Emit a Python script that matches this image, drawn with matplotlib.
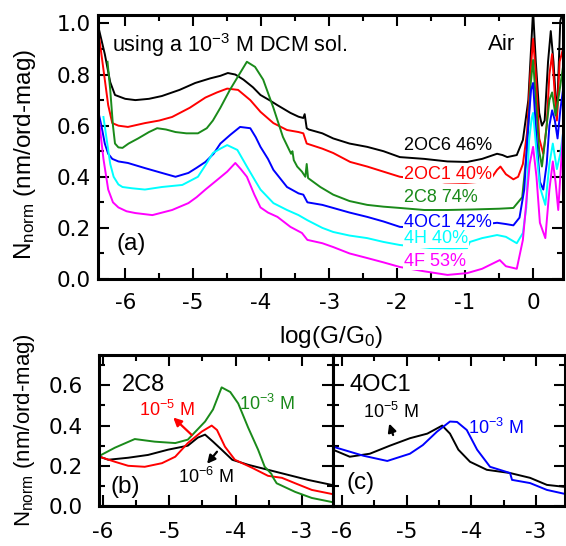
import matplotlib
matplotlib.use("Agg")
import matplotlib.pyplot as plt
from matplotlib.ticker import MultipleLocator

plt.rcParams['font.family'] = ['Liberation Sans', 'DejaVu Sans']
plt.rcParams['mathtext.default'] = 'regular'
plt.rcParams['axes.unicode_minus'] = False

# panel (a): 10^-3 M DCM solution, all molecules
x_2oc6 = [-6.38, -6.30, -6.22, -6.15, -6.00, -5.85, -5.65, -5.46, -5.20, -4.97, -4.75, -4.60, -4.49, -4.38,
          -4.26, -4.12, -4.01, -3.88, -3.76, -3.57, -3.45, -3.38, -3.36, -3.33, -3.30, -3.10, -2.94, -2.70,
          -2.44, -2.20, -1.96, -1.60, -1.26, -0.97, -0.75, -0.53, -0.45, -0.38, -0.24, -0.15, -0.07, -0.02,
          0.00, 0.04, 0.09, 0.13, 0.17, 0.22, 0.26, 0.30, 0.35, 0.40, 0.44]
y_2oc6 = [0.97, 0.88, 0.77, 0.72, 0.705, 0.70, 0.705, 0.716, 0.74, 0.767, 0.785, 0.795, 0.806, 0.80,
          0.78, 0.75, 0.72, 0.70, 0.68, 0.65, 0.635, 0.63, 0.645, 0.59, 0.585, 0.57, 0.55, 0.53,
          0.517, 0.50, 0.477, 0.47, 0.46, 0.458, 0.47, 0.49, 0.485, 0.477, 0.485, 0.544, 0.70, 0.95,
          1.05, 0.85, 0.65, 0.60, 0.62, 0.85, 0.97, 0.85, 0.63, 1.01, 1.05]

x_2oc1 = [-6.38, -6.32, -6.25, -6.19, -6.10, -5.96, -5.71, -5.50, -5.31, -5.05, -4.82, -4.65, -4.50, -4.34,
          -4.16, -4.01, -3.82, -3.62, -3.45, -3.38, -3.33, -3.10, -2.94, -2.69, -2.44, -2.20, -1.96, -1.60,
          -1.30, -1.00, -0.80, -0.60, -0.53, -0.48, -0.40, -0.29, -0.22, -0.15, -0.09, -0.04, 0.00, 0.04,
          0.09, 0.15, 0.20, 0.24, 0.28, 0.32, 0.35, 0.39, 0.44]
y_2oc1 = [0.94, 0.82, 0.68, 0.61, 0.60, 0.595, 0.61, 0.62, 0.634, 0.67, 0.71, 0.73, 0.745, 0.74,
          0.70, 0.654, 0.61, 0.583, 0.575, 0.57, 0.53, 0.51, 0.493, 0.458, 0.44, 0.42, 0.40, 0.39,
          0.378, 0.376, 0.38, 0.40, 0.427, 0.44, 0.41, 0.39, 0.40, 0.45, 0.57, 0.80, 0.94, 0.80,
          0.55, 0.49, 0.60, 0.80, 0.88, 0.72, 0.62, 0.85, 0.90]

x_2c8 = [-6.26, -6.22, -6.18, -6.15, -6.10, -6.04, -5.95, -5.81, -5.65, -5.53, -5.40, -5.26, -5.10, -4.93,
         -4.80, -4.71, -4.60, -4.46, -4.31, -4.21, -4.09, -3.97, -3.82, -3.68, -3.56, -3.54, -3.52, -3.47,
         -3.40, -3.35, -3.33, -3.31, -3.13, -2.94, -2.70, -2.44, -2.20, -1.96, -1.60, -1.26, -0.90, -0.50,
         -0.29, -0.16, -0.09, -0.04, 0.00, 0.04, 0.09, 0.13, 0.18, 0.24, 0.28, 0.33, 0.38, 0.44]
y_2c8 = [0.85, 0.74, 0.60, 0.53, 0.515, 0.513, 0.53, 0.55, 0.575, 0.59, 0.585, 0.575, 0.57, 0.57,
         0.59, 0.62, 0.67, 0.74, 0.806, 0.85, 0.83, 0.78, 0.67, 0.556, 0.49, 0.50, 0.465, 0.44,
         0.42, 0.40, 0.45, 0.395, 0.36, 0.33, 0.305, 0.29, 0.283, 0.278, 0.27, 0.27, 0.272, 0.275,
         0.278, 0.32, 0.505, 0.75, 0.857, 0.70, 0.50, 0.44, 0.55, 0.70, 0.73, 0.64, 0.72, 0.83]

x_4oc1 = [-6.40, -6.35, -6.30, -6.25, -6.19, -6.10, -5.96, -5.71, -5.46, -5.26, -5.07, -4.95, -4.82, -4.70,
          -4.60, -4.45, -4.31, -4.16, -4.08, -4.01, -3.90, -3.82, -3.62, -3.45, -3.38, -3.32, -3.10, -2.94,
          -2.70, -2.44, -2.20, -1.96, -1.50, -1.00, -0.53, -0.40, -0.29, -0.20, -0.13, -0.08, -0.03, 0.00,
          0.05, 0.10, 0.15, 0.20, 0.24, 0.28, 0.32, 0.36, 0.40, 0.44]
y_4oc1 = [0.66, 0.60, 0.53, 0.49, 0.47, 0.46, 0.454, 0.434, 0.415, 0.40, 0.415, 0.435, 0.458, 0.49,
          0.53, 0.565, 0.595, 0.59, 0.555, 0.517, 0.47, 0.427, 0.36, 0.335, 0.33, 0.30, 0.29, 0.278,
          0.26, 0.243, 0.225, 0.204, 0.20, 0.205, 0.22, 0.215, 0.21, 0.24, 0.35, 0.57, 0.74, 0.767,
          0.55, 0.38, 0.35, 0.45, 0.60, 0.66, 0.62, 0.55, 0.66, 0.74]

x_4h = [-6.32, -6.28, -6.22, -6.17, -6.10, -6.04, -5.90, -5.71, -5.46, -5.16, -4.93, -4.82, -4.71, -4.60,
        -4.50, -4.35, -4.21, -4.10, -4.01, -3.82, -3.62, -3.45, -3.32, -3.10, -2.94, -2.70, -2.44, -2.20,
        -1.96, -1.51, -1.20, -0.97, -0.93, -0.75, -0.53, -0.40, -0.24, -0.15, -0.10, -0.06, -0.02, 0.00,
        0.05, 0.10, 0.18, 0.24, 0.29, 0.35, 0.40, 0.44]
y_4h = [0.634, 0.56, 0.45, 0.40, 0.37, 0.36, 0.355, 0.35, 0.36, 0.368, 0.40, 0.445, 0.493, 0.51,
        0.524, 0.505, 0.44, 0.39, 0.35, 0.297, 0.27, 0.25, 0.23, 0.20, 0.184, 0.17, 0.16, 0.145,
        0.133, 0.121, 0.12, 0.121, 0.145, 0.16, 0.172, 0.165, 0.14, 0.18, 0.28, 0.54, 0.63, 0.65,
        0.50, 0.36, 0.29, 0.45, 0.53, 0.43, 0.49, 0.57]

x_4f = [-6.38, -6.32, -6.25, -6.18, -6.10, -5.98, -5.85, -5.60, -5.31, -5.07, -4.95, -4.82, -4.65, -4.50,
        -4.38, -4.30, -4.21, -4.10, -4.01, -3.90, -3.76, -3.57, -3.40, -3.32, -3.10, -2.94, -2.70, -2.44,
        -2.20, -1.96, -1.60, -1.26, -0.97, -0.75, -0.49, -0.40, -0.24, -0.15, -0.10, -0.05, 0.00, 0.05,
        0.10, 0.18, 0.24, 0.29, 0.33, 0.37, 0.40, 0.44]
y_4f = [0.61, 0.47, 0.35, 0.30, 0.28, 0.265, 0.258, 0.25, 0.27, 0.297, 0.32, 0.35, 0.387, 0.42,
        0.454, 0.43, 0.40, 0.33, 0.28, 0.26, 0.243, 0.204, 0.18, 0.153, 0.14, 0.125, 0.10, 0.082,
        0.065, 0.047, 0.03, 0.016, 0.023, 0.04, 0.074, 0.05, 0.04, 0.153, 0.30, 0.45, 0.517, 0.40,
        0.22, 0.16, 0.35, 0.46, 0.38, 0.27, 0.40, 0.57]

names_a = ['2OC6 46%', '2OC1 40%', '2C8 74%', '4OC1 42%', '4H 40%', '4F 53%']
colors_a = ['black', 'red', '#1a8a1a', 'blue', 'cyan', 'magenta']
label_y_a = [0.524, 0.41, 0.317, 0.223, 0.157, 0.07]

# panel (b): 2C8 at three concentrations
xb_1e3 = [-6.05, -5.82, -5.52, -5.22, -4.91, -4.72, -4.46, -4.34, -4.21, -4.08, -3.96, -3.81, -3.66,
          -3.56, -3.46, -3.44, -3.38, -3.10, -2.85, -2.55]
yb_1e3 = [0.25, 0.29, 0.333, 0.32, 0.313, 0.33, 0.42, 0.48, 0.59, 0.567, 0.51, 0.39, 0.28,
          0.195, 0.16, 0.145, 0.113, 0.07, 0.04, 0.02]
xb_1e5 = [-6.05, -5.82, -5.62, -5.37, -5.11, -4.91, -4.72, -4.51, -4.36, -4.28, -4.16, -4.01, -3.75,
          -3.51, -3.30, -3.10, -2.85, -2.55]
yb_1e5 = [0.245, 0.22, 0.20, 0.195, 0.213, 0.245, 0.313, 0.37, 0.40, 0.378, 0.295, 0.23, 0.19,
          0.15, 0.14, 0.113, 0.08, 0.06]
xb_1e6 = [-6.05, -5.92, -5.62, -5.32, -5.02, -4.72, -4.57, -4.46, -4.34, -4.21, -4.05, -3.81, -3.51,
          -3.21, -2.91, -2.55]
yb_1e6 = [0.245, 0.23, 0.24, 0.254, 0.28, 0.30, 0.34, 0.355, 0.32, 0.28, 0.23, 0.205, 0.18,
          0.155, 0.13, 0.105]

# panel (c): 4OC1 at two concentrations
xc_1e3 = [-6.14, -5.67, -5.30, -4.95, -4.75, -4.53, -4.33, -4.22, -4.07, -3.91, -3.71, -3.40, -3.37,
          -3.09, -2.83, -2.55]
yc_1e3 = [0.295, 0.25, 0.224, 0.26, 0.303, 0.37, 0.42, 0.418, 0.378, 0.28, 0.195, 0.164, 0.13,
          0.114, 0.08, 0.06]
xc_1e5 = [-6.14, -5.88, -5.57, -5.26, -4.95, -4.68, -4.45, -4.33, -4.20, -4.02, -3.76, -3.40, -3.09,
          -2.83, -2.55]
yc_1e5 = [0.28, 0.245, 0.26, 0.30, 0.337, 0.36, 0.40, 0.36, 0.28, 0.22, 0.18, 0.164, 0.14,
          0.105, 0.095]

series_a = [(x_2oc6, y_2oc6), (x_2oc1, y_2oc1), (x_2c8, y_2c8),
            (x_4oc1, y_4oc1), (x_4h, y_4h), (x_4f, y_4f)]

W, H = 566, 546
fig = plt.figure(figsize=(W / 100, H / 100), dpi=100)
ax_a = fig.add_axes([98 / W, 1 - 279 / H, (563 - 98) / W, (279 - 15) / H])
ax_b = fig.add_axes([99 / W, 1 - 506 / H, (333 - 99) / W, (506 - 355) / H])
ax_c = fig.add_axes([333 / W, 1 - 506 / H, (565 - 333) / W, (506 - 355) / H])

TICKFONT = 'DejaVu Sans'


def style(ax, xpad, ypad):
    for sp in ax.spines.values():
        sp.set_linewidth(2.2)
    ax.xaxis.set_major_locator(MultipleLocator(1))
    ax.xaxis.set_minor_locator(MultipleLocator(0.5))
    ax.yaxis.set_major_locator(MultipleLocator(0.2))
    ax.yaxis.set_minor_locator(MultipleLocator(0.1))
    ax.tick_params(which='both', direction='in', top=True, right=True, width=1.5, labelsize=15.5,
                   labelfontfamily=TICKFONT)
    ax.tick_params(which='major', length=8)
    ax.tick_params(which='minor', length=4.5)
    ax.tick_params(axis='x', pad=xpad)
    ax.tick_params(axis='y', pad=ypad)


arrow = dict(arrowstyle='-|>', lw=1.6, mutation_scale=12, shrinkA=0, shrinkB=0)

# (a)
for (xs, ys), c in zip(series_a, colors_a):
    ax_a.plot(xs, ys, color=c, lw=1.4, zorder=2)
for name, c, ly in zip(names_a, colors_a, label_y_a):
    ax_a.text(-1.90, ly, name, color=c, fontsize=13, ha='left', va='center', zorder=3,
              bbox=dict(facecolor='white', edgecolor='none', pad=0.5))
ax_a.set_xlim(-6.40, 0.44)
ax_a.set_ylim(0, 1.033)
style(ax_a, 10, 5)
ax_a.set_xticks([-6, -5, -4, -3, -2, -1, 0])
ax_a.set_yticks([0.0, 0.2, 0.4, 0.6, 0.8, 1.0])
ax_a.set_yticklabels(['0.0', '0.2', '0.4', '0.6', '0.8', '1.0'])
ax_a.text(-6.19, 0.916, 'using a 10$^{-3}$ M DCM sol.', fontsize=15.5, ha='left', va='center')
ax_a.text(-0.46, 0.916, 'Air', fontsize=16, ha='center', va='center')
ax_a.text(-5.91, 0.137, '(a)', fontsize=17.5, ha='center', va='center')
ax_a.set_xlabel('log(G/G$_0$)', fontsize=17.5)
ax_a.xaxis.set_label_coords(0.5, -0.17)
ax_a.set_ylabel('N$_{norm}$ (nm/ord-mag)', fontsize=17.5)
ax_a.yaxis.set_label_coords(-0.13, 0.47)

# (b)
ax_b.plot(xb_1e6, yb_1e6, color='black', lw=1.4)
ax_b.plot(xb_1e5, yb_1e5, color='red', lw=1.4)
ax_b.plot(xb_1e3, yb_1e3, color='#1a8a1a', lw=1.4)
ax_b.set_xlim(-6.06, -2.53)
ax_b.set_ylim(0, 0.751)
style(ax_b, 11.5, 11.5)
ax_b.set_xticks([-6, -5, -4, -3])
ax_b.set_yticks([0.0, 0.2, 0.4, 0.6])
ax_b.set_yticklabels(['0.0', '0.2', '0.4', '0.6'])
ax_b.text(-5.71, 0.60, '2C8', fontsize=17, ha='left', va='center')
ax_b.text(-5.03, 0.48, '10$^{-5}$ M', color='red', fontsize=13, ha='center', va='center')
ax_b.text(-3.53, 0.51, '10$^{-3}$ M', color='#1a8a1a', fontsize=13, ha='center', va='center')
ax_b.text(-4.45, 0.145, '10$^{-6}$ M', color='black', fontsize=13, ha='center', va='center')
ax_b.text(-5.67, 0.095, '(b)', fontsize=17.5, ha='center', va='center')
ax_b.annotate('', xy=(-4.94, 0.44), xytext=(-4.66, 0.353), arrowprops=dict(arrow, color='red'))
ax_b.annotate('', xy=(-4.43, 0.21), xytext=(-4.28, 0.27), arrowprops=dict(arrow, color='black'))
ax_b.set_ylabel('N$_{norm}$ (nm/ord-mag)', fontsize=16)
ax_b.yaxis.set_label_coords(-0.265, 0.5)

# (c)
ax_c.plot(xc_1e5, yc_1e5, color='black', lw=1.4)
ax_c.plot(xc_1e3, yc_1e3, color='blue', lw=1.4)
ax_c.set_xlim(-6.14, -2.55)
ax_c.set_ylim(0, 0.751)
style(ax_c, 11.5, 11.5)
ax_c.tick_params(axis='y', labelleft=False)
ax_c.set_xticks([-6, -5, -4, -3])
ax_c.text(-5.88, 0.60, '4OC1', fontsize=17, ha='left', va='center')
ax_c.text(-5.24, 0.47, '10$^{-5}$ M', color='black', fontsize=13, ha='center', va='center')
ax_c.text(-3.62, 0.39, '10$^{-3}$ M', color='blue', fontsize=13, ha='center', va='center')
ax_c.text(-5.72, 0.115, '(c)', fontsize=17.5, ha='center', va='center')
ax_c.annotate('', xy=(-5.27, 0.41), xytext=(-5.21, 0.353), arrowprops=dict(arrow, color='black'))

fig.savefig('out.png', dpi=100)
